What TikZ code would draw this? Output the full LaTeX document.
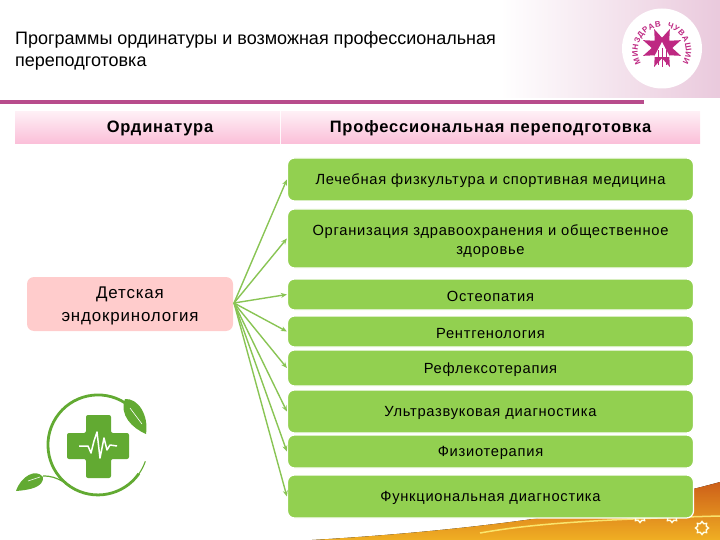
\documentclass[tikz,border=0pt]{standalone}
\usepackage{fontspec}
\setmainfont{Liberation Sans}
\newfontfamily\boxfont[LetterSpace=5]{Liberation Sans}
\newfontfamily\headfont[LetterSpace=5]{Liberation Sans}
\usetikzlibrary{arrows.meta,decorations.text,shadings,shapes.geometric}
\definecolor{progGreen}{RGB}{146,208,80}
\definecolor{lineGreen}{RGB}{137,196,84}
\definecolor{logoGreen}{RGB}{98,170,50}
\definecolor{barPink}{RGB}{184,76,140}
\definecolor{logoPink}{RGB}{190,40,130}
\definecolor{headPink}{RGB}{251,190,216}
\definecolor{ordPink}{RGB}{255,204,204}
\definecolor{swooshDark}{RGB}{205,95,25}
\definecolor{swooshGold}{RGB}{240,175,35}
\tikzset{
  progbox/.style={fill=progGreen, draw=white, line width=1.2pt, rounded corners=7pt, minimum width=406pt,
    text width=390pt, align=center, inner sep=0pt, font=\boxfont\fontsize{14.7}{19}\selectfont},
  oneline/.style={progbox, execute at begin node={\rule{0pt}{13.7pt}}},
  headbox/.style={top color=headPink!25, bottom color=headPink, minimum height=32pt, inner sep=0pt,
    font=\headfont\bfseries\fontsize{16.5}{18}\selectfont},
  linkarrow/.style={draw=lineGreen, line width=1.4pt, -{Stealth[length=6pt,width=5pt]}},
  glint/.style={star, star points=8, star point ratio=1.4, draw=white!90!yellow, line width=1.4pt, minimum size=13pt, inner sep=0pt},
}
\begin{document}
\begin{tikzpicture}[x=1pt,y=-1pt]
\useasboundingbox (0,0) rectangle (720,540);
% corner tint and logo
\path[left color=white, right color=barPink!30] (500,0) rectangle (720,98);
\fill[white] (662,48.5) circle (40);
\node[star, star points=8, star point ratio=2, fill=logoPink, minimum size=41pt, inner sep=0pt, rotate=22.5] (logostar) at (662,48) {};
\fill[white] (662,42) -- (670,57) -- (654,57) -- cycle;
\draw[logoPink, line width=1pt] (658,50) -- (658,65) (662,48) -- (662,67) (666,50) -- (666,65);
\path[decorate, decoration={text along path, text align={fit to path},
    text={|\bfseries\fontsize{8}{9}\selectfont\color{logoPink}|МИНЗДРАВ{ }{ }ЧУВАШИИ}}]
  (641,63) arc[start angle=150, end angle=390, radius=24];
% title
\node[anchor=north west, align=left, inner sep=0pt, font=\fontsize{18}{22}\selectfont] (title) at (15,31)
  {Программы ординатуры и возможная профессиональная\\переподготовка};
\fill[barPink] (0,100) rectangle (644,104);
% table head
\node[headbox, minimum width=265pt] (headord) at (147.5,128) {\hspace*{25pt}Ординатура};
\node[headbox, minimum width=419pt] (headprof) at (490.5,128) {Профессиональная переподготовка};
% bottom swoosh
\fill[top color=swooshDark, bottom color=swooshGold] (312,540) .. controls (450,532) and (600,515) .. (720,482) -- (720,540) -- cycle;
\draw[yellow!50!white, line width=1.5pt, opacity=.8] (480,533) .. controls (520,526) and (570,520) .. (720,516);
\node[glint] (glinta) at (640,516) {};
\node[glint] (glintb) at (672,516) {};
\node[glint] (glintc) at (702,528) {};
% green emblem
\draw[logoGreen, line width=2.8pt] (125.2,403) arc[start angle=-57, end angle=-325, radius=50];
\draw[logoGreen, line width=1.1pt] (139,473.7) arc[start angle=-325, end angle=-341, radius=50];
\fill[logoGreen, rounded corners=2pt] (86,415) -- (111,415) -- (111,433) -- (129,433) -- (129,459) -- (111,459) -- (111,478) -- (86,478) -- (86,459) -- (67,459) -- (67,433) -- (86,433) -- cycle;
\draw[white, line width=1.5pt, line join=round] (79,446) -- (88,446) -- (91,453) -- (94,441) -- (97,432) -- (100,458) -- (104,438) -- (107,450) -- (110,445) -- (117,446);
\fill[logoGreen] (125,399) .. controls (138,398) and (149,415) .. (146,434) .. controls (132,428) and (119,415) .. (125,399) -- cycle;
\fill[logoGreen] (16,491) .. controls (21,476) and (36,468) .. (43,477) .. controls (44,487) and (30,490) .. (16,491) -- cycle;
\draw[logoGreen, line width=1.2pt] (43,476) .. controls (52,476) and (56,478) .. (62,481);
\draw[white, line width=.6pt] (28,481) -- (40,477);
\draw[white, line width=.6pt] (130,408) -- (142,424);
% left box
\node[fill=ordPink, rounded corners=7pt, minimum width=206pt, minimum height=54pt, align=center, inner sep=0pt,
  font=\boxfont\fontsize{16.9}{23}\selectfont] (endo) at (130,304) {\rule{0pt}{16.2pt}Детская\\эндокринология};
% programme boxes
\node[oneline, minimum height=43pt] (lfk) at (490.5,179.5) {Лечебная физкультура и спортивная медицина};
\node[progbox, minimum height=59pt] (orgz) at (490.5,238.5) {\rule{0pt}{16.7pt}Организация здравоохранения и общественное\\здоровье};
\node[oneline, minimum height=31pt] (osteo) at (490.5,294.5) {Остеопатия};
\node[oneline, minimum height=31pt] (rentgen) at (490.5,331.5) {Рентгенология};
\node[oneline, minimum height=36pt] (reflex) at (490.5,368) {Рефлексотерапия};
\node[oneline, minimum height=43pt] (uzi) at (490.5,411.5) {Ультразвуковая диагностика};
\node[oneline, minimum height=33pt] (fizio) at (490.5,451.5) {Физиотерапия};
\node[oneline, minimum height=43pt] (funkc) at (490.5,496.5) {Функциональная диагностика};
% links
\coordinate (endoout) at (234,303);
\draw[linkarrow] (endoout) -- (lfk.west);
\draw[linkarrow] (endoout) -- (orgz.west);
\draw[linkarrow] (endoout) -- (osteo.west);
\draw[linkarrow] (endoout) -- (rentgen.west);
\draw[linkarrow] (endoout) -- (reflex.west);
\draw[linkarrow] (endoout) -- (uzi.west);
\draw[linkarrow] (endoout) -- (fizio.west);
\draw[linkarrow] (endoout) -- (funkc.west);
\end{tikzpicture}
\end{document}
